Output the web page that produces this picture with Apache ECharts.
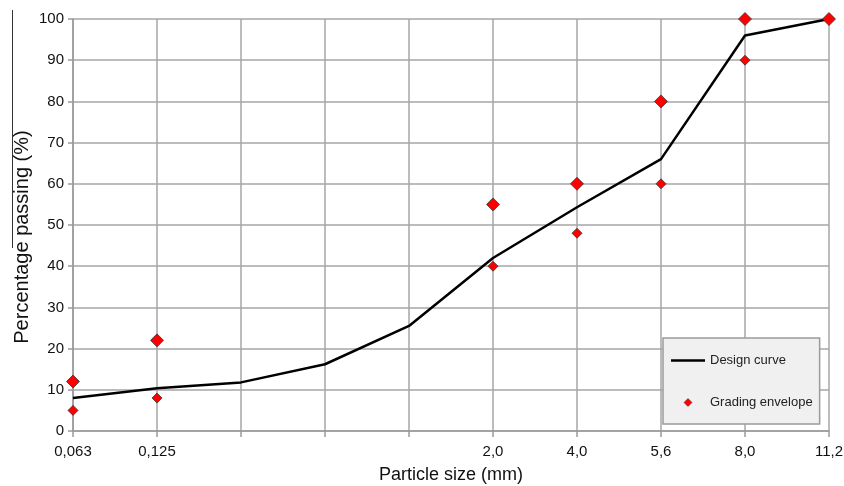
<!DOCTYPE html>
<html>
<head>
<meta charset="utf-8">
<script src="https://cdn.jsdelivr.net/npm/echarts@6/dist/echarts.min.js"></script>
<style>
html,body{margin:0;padding:0;background:#fff;}
#chart{width:844px;height:486px;}
</style>
</head>
<body>
<div id="chart"></div>
<script>
// Sieve sizes (mm) and their tick labels (intermediate sieves unlabelled in original)
var sieveSizes = ['0,063', '0,125', '0,25', '0,5', '1,0', '2,0', '4,0', '5,6', '8,0', '11,2'];
var tickLabels = ['0,063', '0,125', '', '', '', '2,0', '4,0', '5,6', '8,0', '11,2'];
// Design curve (% passing)
var designCurve = [8, 10.4, 11.8, 16.2, 25.5, 42, 54.3, 66, 96, 100];
// Grading envelope limits (% passing)
var envelopeUpper = [12, 22, null, null, null, 55, 60, 80, 100, 100];
var envelopeLower = [5, 8, null, null, null, 40, 48, 60, 90, null];

var FONT = 'Liberation Sans';
var chart = echarts.init(document.getElementById('chart'));
chart.setOption({
  animation: false,
  backgroundColor: '#fff',
  textStyle: { fontFamily: FONT },
  grid: { left: 73, right: 15, top: 19, bottom: 55, outerBoundsMode: 'none', containLabel: false },
  graphic: [{
    type: 'line',
    shape: { x1: 12.5, y1: 10, x2: 12.5, y2: 248 },
    style: { stroke: '#333', lineWidth: 1 }
  }],
  legend: {
    orient: 'vertical',
    left: 663,
    top: 338,
    padding: [16, 7, 15, 8],
    itemGap: 29,
    itemWidth: 34,
    itemHeight: 8,
    symbolKeepAspect: true,
    backgroundColor: '#f0f0f0',
    borderColor: '#9a9a9a',
    borderWidth: 1.5,
    textStyle: { fontFamily: FONT, fontSize: 13, color: '#222' },
    data: [
      { name: 'Design curve', icon: 'path://M0,0H34V2.5H0Z', itemStyle: { color: '#000' } },
      { name: 'Grading envelope', icon: 'path://M4,0L8,4L4,8L0,4Z', itemStyle: { color: '#ff0000', borderColor: '#333', borderWidth: 0.5 } }
    ]
  },
  xAxis: {
    type: 'category',
    data: sieveSizes,
    boundaryGap: false,
    name: 'Particle size (mm)',
    nameLocation: 'middle',
    nameGap: 35,
    nameMoveOverlap: false,
    nameTextStyle: { fontFamily: FONT, fontSize: 18, color: '#111' },
    axisLine: { lineStyle: { color: '#9a9a9a', width: 1.5 } },
    axisTick: { show: true, length: 6, alignWithLabel: true, lineStyle: { color: '#9a9a9a', width: 1.5 } },
    axisLabel: {
      margin: 13, fontSize: 15, color: '#111', fontFamily: FONT,
      interval: 0,
      formatter: function (v, i) { return tickLabels[i]; }
    },
    splitLine: { show: true, lineStyle: { color: '#a6a6a6', width: 1.5 } }
  },
  yAxis: {
    type: 'value',
    min: 0, max: 100, interval: 10,
    name: 'Percentage passing (%)',
    nameLocation: 'middle',
    nameGap: 41,
    nameMoveOverlap: false,
    nameTextStyle: { fontFamily: FONT, fontSize: 20, color: '#111', padding: [0, 24, 0, 0] },
    axisLine: { show: true, lineStyle: { color: '#9a9a9a', width: 1.5 } },
    axisTick: { show: true, length: 5, lineStyle: { color: '#9a9a9a', width: 1.5 } },
    axisLabel: { margin: 9, fontSize: 15, color: '#111', fontFamily: FONT },
    splitLine: { show: true, lineStyle: { color: '#a6a6a6', width: 1.5 } }
  },
  series: [
    {
      name: 'Design curve',
      type: 'line',
      data: designCurve,
      symbol: 'none',
      lineStyle: { color: '#000', width: 2.5 },
      itemStyle: { color: '#000' },
      z: 3
    },
    {
      name: 'Grading envelope',
      type: 'scatter',
      data: envelopeUpper,
      symbol: 'diamond',
      symbolSize: 13,
      itemStyle: { color: '#ff0000', borderColor: '#333', borderWidth: 0.8, opacity: 1 },
      z: 4
    },
    {
      name: 'Grading envelope',
      type: 'scatter',
      data: envelopeLower,
      symbol: 'diamond',
      symbolSize: 10,
      itemStyle: { color: '#ff0000', borderColor: '#333', borderWidth: 0.8, opacity: 1 },
      z: 4
    }
  ]
});
</script>
</body>
</html>
